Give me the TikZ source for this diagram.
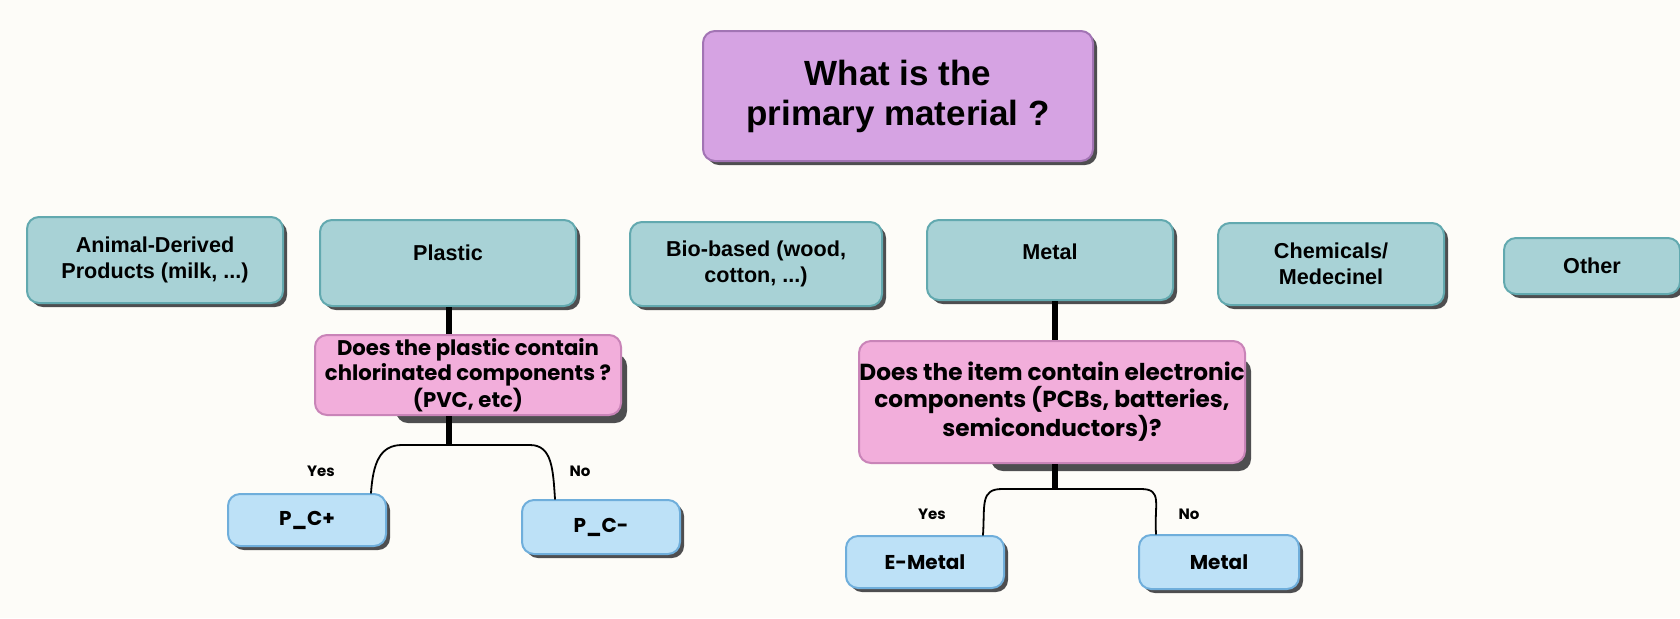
\documentclass[tikz,border=0pt]{standalone}
\usepackage{fontspec}
\setmainfont{Liberation Sans}
\newfontfamily\popfont{Poppins}
\usetikzlibrary{shadows}
\definecolor{bgcol}{HTML}{FDFCF8}
\definecolor{shcol}{HTML}{4E4E50}
\definecolor{topfill}{HTML}{D6A3E3}
\definecolor{topline}{HTML}{A274B4}
\definecolor{tealfill}{HTML}{A8D2D6}
\definecolor{tealline}{HTML}{62A9AF}
\definecolor{pinkfill}{HTML}{F2AEDB}
\definecolor{pinkline}{HTML}{C984B8}
\definecolor{bluefill}{HTML}{BDE1F7}
\definecolor{blueline}{HTML}{6FAEDB}
\begin{document}
\begin{tikzpicture}[x=0.5pt, y=0.5pt, line join=round, line cap=round,
  card/.style={draw, line width=1pt, rounded corners=6pt, align=center, inner sep=0pt,
    drop shadow={shadow xshift=2pt, shadow yshift=-2pt, fill=shcol, opacity=1}},
  topq/.style={card, fill=topfill, draw=topline, font=\bfseries\fontsize{17.5}{20}\selectfont},
  mat/.style={card, fill=tealfill, draw=tealline, font=\bfseries\fontsize{10.8}{13}\selectfont},
  subq/.style={draw=pinkline, fill=pinkfill, line width=1pt, rounded corners=6pt, align=center,
    inner sep=0pt, font=\popfont\bfseries\fontsize{10.6}{11.3}\selectfont},
  leaf/.style={card, fill=bluefill, draw=blueline, font=\popfont\bfseries\fontsize{10}{12}\selectfont},
  stem/.style={line width=3pt, line cap=butt},
  branch/.style={line width=0.9pt},
  ans/.style={font=\popfont\bfseries\fontsize{7.5}{9}\selectfont}]
  \fill[bgcol] (0,0) rectangle (1680,-618);
  \useasboundingbox (0,0) rectangle (1680,-618);

  \node[topq, minimum width=195pt, minimum height=65pt] (q0) at (898,-96) {What is the\\primary material ?};

  % materials
  \node[mat, minimum width=128pt, minimum height=43pt] (animal) at (155,-260) {Animal-Derived\\Products (milk, ...)};
  \node[mat, minimum width=128pt, minimum height=43pt] (plastic) at (448,-263) {\raisebox{10pt}{Plastic}};
  \node[mat, minimum width=126pt, minimum height=42pt] (bio) at (756,-264) {Bio-based (wood,\\cotton, ...)};
  \node[mat, minimum width=123pt, minimum height=40pt] (metal) at (1050,-260) {\raisebox{8pt}{Metal}};
  \node[mat, minimum width=113pt, minimum height=41pt] (chem) at (1331,-264) {Chemicals/\\Medecinel};
  \node[mat, minimum width=88pt, minimum height=28pt] (other) at (1592,-266) {Other};

  % questions
  \fill[shcol, rounded corners=6pt] (396,-354) rectangle (627,-423);
  \node[subq, minimum width=153pt, minimum height=40pt] (qplast) at (468,-375)
    {Does the plastic contain\\chlorinated components ?\\(PVC, etc)};
  \fill[shcol, rounded corners=6pt] (991,-359) rectangle (1251,-471);
  \node[subq, minimum width=193pt, minimum height=61pt, font=\popfont\bfseries\fontsize{11.6}{13.4}\selectfont] (qmetal) at (1052,-402)
    {Does the item contain electronic\\components (PCBs, batteries,\\semiconductors)?};

  % results
  \node[leaf, minimum width=79pt, minimum height=26pt] (pcp) at (307,-520) {P\_C+};
  \node[leaf, minimum width=79pt, minimum height=27pt] (pcm) at (601,-527) {P\_C-};
  \node[leaf, minimum width=79pt, minimum height=26pt] (emet) at (925,-562) {E-Metal};
  \node[leaf, minimum width=80pt, minimum height=27pt] (met) at (1219,-562) {Metal};

  \coordinate (s1) at (449,-445);
  \coordinate (s2) at (1055,-489);

  \draw[stem] (plastic.south -| s1) -- (qplast.north -| s1);
  \draw[stem] (qplast.south -| s1) -- (s1);
  \draw[stem] (metal.south -| s2) -- (qmetal.north -| s2);
  \draw[stem] (qmetal.south -| s2) -- (s2);

  \draw[branch] (s1) -- ++(-47,0) .. controls +(-22,0) and +(2,30) .. ([xshift=-8pt]pcp.north east);
  \draw[branch] (s1) -- ++(81,0) .. controls +(22,0) and +(-2,30) .. ([xshift=17pt]pcm.north west);
  \draw[branch] (s2) -- ++(-53,0) .. controls +(-22,0) and +(2,30) .. ([xshift=-11pt]emet.north east);
  \draw[branch] (s2) -- ++(86,0) .. controls +(22,0) and +(-2,30) .. ([xshift=9pt]met.north west);

  \node[ans] (y1) at (321,-471) {Yes};
  \node[ans] (n1) at (580,-471) {No};
  \node[ans] (y2) at (932,-514) {Yes};
  \node[ans] (n2) at (1189,-514) {No};
\end{tikzpicture}
\end{document}
